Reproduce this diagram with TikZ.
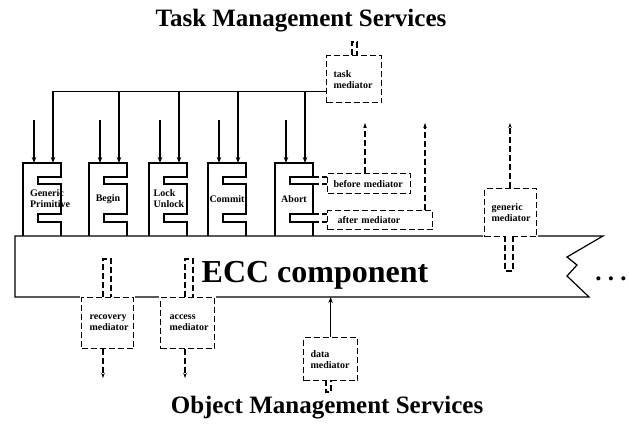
\documentclass[tikz,border=0pt]{standalone}
\usepackage{fontspec}
\setmainfont{Liberation Serif}
\usepackage{tikz}
\usetikzlibrary{arrows.meta}
\newcommand{\smallbf}{\fontsize{10}{11}\selectfont\bfseries}
\newcommand{\titlebf}{\fontsize{25}{28}\selectfont\bfseries}
% E shaped primitive: #1 name, #2 left x, #3 label x, #4 label
\newcommand{\prim}[4]{%
\draw[solidline] (#2,236) -- (#2,163) -- ++(38,0) -- ++(0,14) -- ++(-23,0) -- ++(0,7) -- ++(23,0)
  -- ++(0,30) -- ++(-23,0) -- ++(0,8) -- ++(23,0) -- (#2+38,236);
\coordinate (#1-a) at (#2+11,163);
\coordinate (#1-b) at (#2+30,163);
\coordinate (#1-u1) at (#2+38,177);
\coordinate (#1-u2) at (#2+38,184);
\coordinate (#1-l1) at (#2+38,214);
\coordinate (#1-l2) at (#2+38,222);
\node[primtext] (#1) at (#3,199) {#4};}

\begin{document}
\begin{tikzpicture}[x=1pt,y=-1pt,
  solidline/.style={line width=1.2pt},
  dline/.style={line width=1.2pt,dash pattern=on 6pt off 3pt},
  arr/.style={line width=1.2pt,-{Stealth[length=6pt,width=4.5pt]}},
  darr/.style={dline,-{Stealth[length=5pt,width=3.5pt]}},
  plug/.style={dline,fill=white},
  primtext/.style={font=\smallbf,align=left,inner sep=0pt},
  medbox/.style={dline,draw,fill=white,preaction={draw=white,line width=3pt,solid},
    font=\smallbf,align=left,inner xsep=7pt,inner ysep=0pt,anchor=north west}]
\useasboundingbox (0,0) rectangle (629,425);

%% titles
\node[font=\titlebf,anchor=base] (tms) at (301,27) {Task Management Services};
\node[font=\titlebf,anchor=base] (oms) at (327,413) {Object Management Services};

%% ECC component
\coordinate (eccbot) at (15,297);
\draw[solidline] (15,236) -- (603,236) -- (567,257) -- (577,265) -- (567,276) -- (589,297) -- (eccbot) -- cycle;
\node[font=\fontsize{32}{36}\selectfont\bfseries,anchor=base] (ecc) at (315,282) {ECC component};
\node[font=\titlebf,anchor=base] (more) at (611,280) {.\ .\ .};

%% primitives
\prim{gp}{23}{50}{Generic\\Primitive}
\prim{bg}{89}{108}{Begin}
\prim{lk}{149}{169}{Lock\\Unlock}
\prim{cm}{208}{227}{Commit}
\prim{ab}{275}{294}{Abort}

%% mediators
\node[medbox,text width=41,minimum height=47] (task) at (326,55) {task\\mediator};
\node[medbox,minimum height=20,inner xsep=6pt,text width=71] (before) at (327,173) {before mediator};
\node[medbox,minimum height=19,inner xsep=10pt,text width=85] (after) at (327,210) {after mediator};
\node[medbox,text width=38,minimum height=48] (generic) at (484,188) {generic\\mediator};
\node[medbox,minimum height=51,inner xsep=8pt,text width=36] (rec) at (81,297) {recovery\\mediator};
\node[medbox,minimum height=51,inner xsep=9pt,text width=36] (acc) at (160,297) {access\\mediator};
\node[medbox,text width=40,minimum height=43] (data) at (303,337) {data\\mediator};

%% plugs
\draw[plug] (352,55) -- (352,42) -- (357,42) -- (357,55);
\draw[plug] (505,236) -- (505,271) -- (513,271) -- (513,236);
\draw[plug] (103,297) -- (103,259) -- (111,259) -- (111,297);
\draw[plug] (185,297) -- (185,259) -- (193,259) -- (193,297);
\draw[plug] (326,380) -- (326,392) -- (331,392) -- (331,380);
\draw[dline] (ab-u1) -- (ab-u1 -| before.west);
\draw[dline] (ab-u2) -- (ab-u2 -| before.west);
\draw[dline] (ab-l1) -- (ab-l1 -| after.west);
\draw[dline] (ab-l2) -- (ab-l2 -| after.west);

%% task bus
\coordinate (bus) at ([yshift=-12.5pt]task.west);
\draw[arr] (bus) -| (gp-b);
\draw[arr] (bus) -| (bg-b);
\draw[arr] (bus) -| (lk-b);
\draw[arr] (bus) -| (cm-b);
\draw[arr] (bus) -| (ab-b);
\draw[arr] ([yshift=43pt]gp-a) -- (gp-a);
\draw[arr] ([yshift=43pt]bg-a) -- (bg-a);
\draw[arr] ([yshift=43pt]lk-a) -- (lk-a);
\draw[arr] ([yshift=43pt]cm-a) -- (cm-a);
\draw[arr] ([yshift=43pt]ab-a) -- (ab-a);

%% out arrows
\coordinate (bup) at (365,123);
\coordinate (aup) at (425,123);
\coordinate (gup) at (510,123);
\coordinate (rdown) at (103,378);
\coordinate (adown) at (185,378);
\draw[darr] (before.north -| bup) -- (bup);
\draw[darr] (after.north -| aup) -- (aup);
\draw[darr] (generic.north -| gup) -- (gup);
\draw[darr] (rec.south -| rdown) -- (rdown);
\draw[darr] (acc.south -| adown) -- (adown);
\draw[arr] (data.north) -- (data.north |- eccbot);
\end{tikzpicture}
\end{document}
